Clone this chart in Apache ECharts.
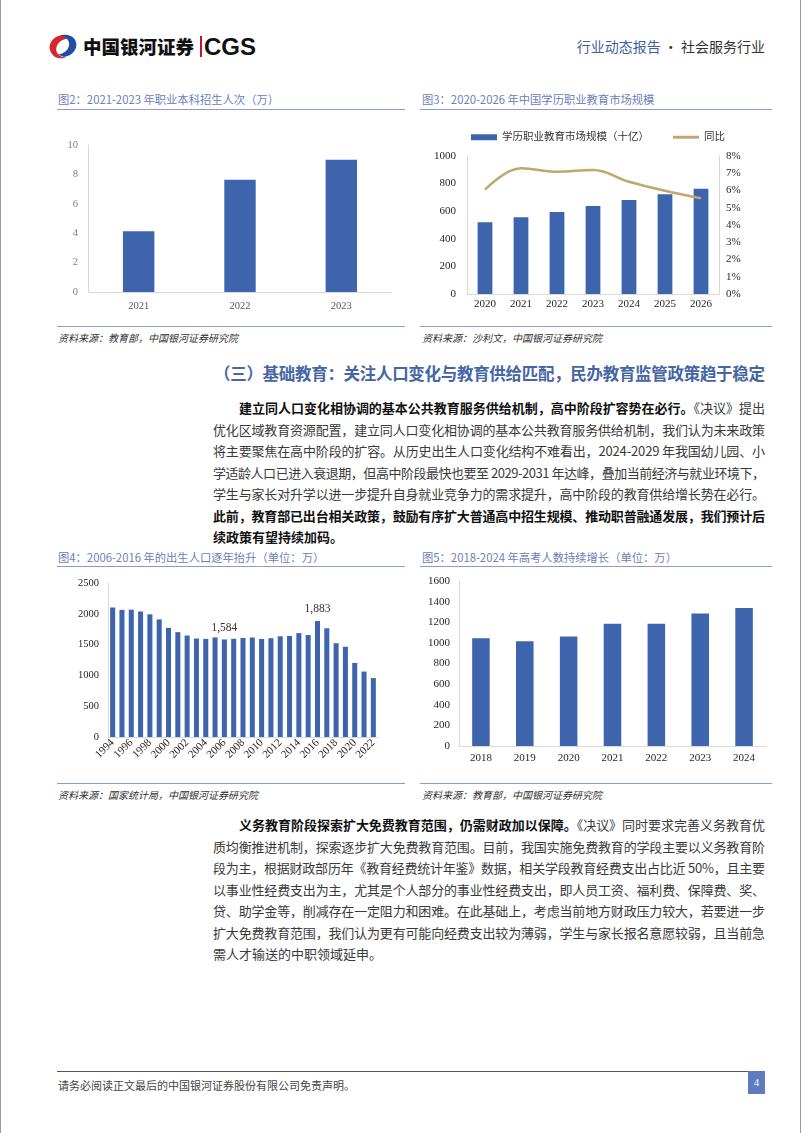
<!DOCTYPE html>
<html>
<head>
<meta charset="utf-8">
<script src="https://cdn.jsdelivr.net/npm/echarts/dist/echarts.min.js"></script>
<style>
  html,body{margin:0;padding:0;background:#fff;}
  #page{position:relative;width:802px;height:1133px;overflow:hidden;background:#fff;font-family:"Noto Sans CJK SC","Noto Sans",sans-serif;}
  .abs{position:absolute;white-space:nowrap;}
  .ttl{font-size:11.3px;color:#6d80b9;line-height:14px;}
  .rule{position:absolute;height:0;border-top:1.5px solid #8e9bc9;}
  .src{font-size:10px;font-style:italic;color:#333;line-height:12px;}
  .ln{position:absolute;white-space:nowrap;font-size:13px;line-height:22px;color:#3a3a3a;}
  .ln b{color:#111;font-weight:700;}
  .chart{position:absolute;}
</style>
</head>
<body>
<div id="page">
  <!-- page edges -->
  <div class="abs" style="left:0;top:0;width:1px;height:1133px;background:#9a9a9a;"></div>
  <div class="abs" style="left:800px;top:0;width:1px;height:1133px;background:#9a9a9a;"></div>

  <!-- header -->
  <svg class="abs" style="left:47px;top:33px;" width="32" height="27" viewBox="0 0 32 27">
    <path d="M15 2 C7 3 1 10 3 17 C5 24 12 27 19 24.5 C12 24 8 19.5 9.5 14 C11 9 15 6.5 21 5.5 Z" fill="#d7262e"/>
    <path d="M17 24 C25 23 31 16 29 9 C27 3 20 0.5 13 2.5 C19 3.5 23 7.5 22 12.5 C21 17.5 17 20.5 11 21.5 Z" fill="#1f4fa3"/>
  </svg>
  <div class="abs" style="left:83px;top:34px;font-size:18.5px;line-height:24px;font-weight:900;color:#111;">中国银河证券</div>
  <div class="abs" style="left:200px;top:36px;width:1.6px;height:21px;background:#c8102e;"></div>
  <div class="abs" style="left:204px;top:33px;font-family:'Liberation Sans',Arial,sans-serif;font-weight:700;font-size:24px;line-height:27px;color:#111;">CGS</div>
  <div class="abs" style="right:37px;top:36px;font-size:14px;line-height:20px;"><span style="color:#3f5fa5;">行业动态报告</span><span style="color:#333;"> · 社会服务行业</span></div>

  <!-- figure titles top -->
  <div class="abs ttl" style="left:58px;top:92px;">图2：2021-2023 年职业本科招生人次（万）</div>
  <div class="rule" style="left:57px;top:109px;width:348px;"></div>
  <div class="abs ttl" style="left:422px;top:92px;">图3：2020-2026 年中国学历职业教育市场规模</div>
  <div class="rule" style="left:420px;top:109px;width:352px;"></div>

  <div id="c1" class="chart" style="left:57px;top:112px;width:350px;height:210px;"></div>
  <div id="c2" class="chart" style="left:420px;top:112px;width:360px;height:210px;"></div>

  <div class="rule" style="left:57px;top:326px;width:348px;"></div>
  <div class="abs src" style="left:58px;top:332px;">资料来源：教育部，中国银河证券研究院</div>
  <div class="rule" style="left:420px;top:326px;width:352px;"></div>
  <div class="abs src" style="left:422px;top:332px;">资料来源：沙利文，中国银河证券研究院</div>

  <!-- section heading -->
  <div class="abs jl" data-w="551" style="left:214px;top:362px;font-size:16.5px;line-height:22px;font-weight:700;color:#4565a5;">（三）基础教育：关注人口变化与教育供给匹配，民办教育监管政策趋于稳定</div>

  <!-- paragraph 1 -->
  <div class="ln jl" data-w="526" style="left:239px;top:397px;"><b>建立同人口变化相协调的基本公共教育服务供给机制，高中阶段扩容势在必行。</b>《决议》提出</div>
  <div class="ln jl" data-w="552" style="left:213px;top:418.5px;">优化区域教育资源配置，建立同人口变化相协调的基本公共教育服务供给机制，我们认为未来政策</div>
  <div class="ln jl" data-w="552" style="left:213px;top:440px;">将主要聚焦在高中阶段的扩容。从历史出生人口变化结构不难看出，2024-2029 年我国幼儿园、小</div>
  <div class="ln jl" data-w="552" style="left:213px;top:461.5px;">学适龄人口已进入衰退期，但高中阶段最快也要至 2029-2031 年达峰，叠加当前经济与就业环境下，</div>
  <div class="ln jl" data-w="552" style="left:213px;top:483px;">学生与家长对升学以进一步提升自身就业竞争力的需求提升，高中阶段的教育供给增长势在必行。</div>
  <div class="ln jl" data-w="552" style="left:213px;top:504.5px;"><b>此前，教育部已出台相关政策，鼓励有序扩大普通高中招生规模、推动职普融通发展，我们预计后</b></div>
  <div class="ln" style="left:213px;top:526px;"><b>续政策有望持续加码。</b></div>

  <!-- figure titles bottom -->
  <div class="abs ttl" style="left:58px;top:550px;">图4：2006-2016 年的出生人口逐年抬升（单位：万）</div>
  <div class="rule" style="left:57px;top:566px;width:348px;"></div>
  <div class="abs ttl" style="left:422px;top:550px;">图5：2018-2024 年高考人数持续增长（单位：万）</div>
  <div class="rule" style="left:420px;top:566px;width:352px;"></div>

  <div id="c3" class="chart" style="left:57px;top:568px;width:350px;height:210px;"></div>
  <div id="c4" class="chart" style="left:420px;top:568px;width:360px;height:210px;"></div>

  <div class="rule" style="left:57px;top:783px;width:348px;"></div>
  <div class="abs src" style="left:58px;top:789px;">资料来源：国家统计局，中国银河证券研究院</div>
  <div class="rule" style="left:420px;top:783px;width:352px;"></div>
  <div class="abs src" style="left:422px;top:789px;">资料来源：教育部，中国银河证券研究院</div>

  <!-- paragraph 2 -->
  <div class="ln jl" data-w="526" style="left:239px;top:814px;"><b>义务教育阶段探索扩大免费教育范围，仍需财政加以保障。</b>《决议》同时要求完善义务教育优</div>
  <div class="ln jl" data-w="552" style="left:213px;top:835.5px;">质均衡推进机制，探索逐步扩大免费教育范围。目前，我国实施免费教育的学段主要以义务教育阶</div>
  <div class="ln jl" data-w="552" style="left:213px;top:857px;">段为主，根据财政部历年《教育经费统计年鉴》数据，相关学段教育经费支出占比近 50%，且主要</div>
  <div class="ln jl" data-w="552" style="left:213px;top:878.5px;">以事业性经费支出为主，尤其是个人部分的事业性经费支出，即人员工资、福利费、保障费、奖、</div>
  <div class="ln jl" data-w="552" style="left:213px;top:900px;">贷、助学金等，削减存在一定阻力和困难。在此基础上，考虑当前地方财政压力较大，若要进一步</div>
  <div class="ln jl" data-w="552" style="left:213px;top:921.5px;">扩大免费教育范围，我们认为更有可能向经费支出较为薄弱，学生与家长报名意愿较弱，且当前急</div>
  <div class="ln" style="left:213px;top:943px;">需人才输送的中职领域延申。</div>

  <!-- footer -->
  <div class="abs" style="left:57px;top:1071px;width:691px;height:1px;background:#555;"></div>
  <div class="abs" style="left:58px;top:1078px;font-size:11px;line-height:14px;color:#444;">请务必阅读正文最后的中国银河证券股份有限公司免责声明。</div>
  <div class="abs" style="left:748px;top:1071px;width:17px;height:23px;background:#5d7cbf;color:#fff;font-family:'Liberation Serif',serif;font-size:11px;line-height:23px;text-align:center;">4</div>
</div>

<script>
// ---------- data ----------
const fig2Years = ['2021', '2022', '2023'];
const fig2Enroll = [4.14, 7.63, 8.99];

const fig3Years = ['2020', '2021', '2022', '2023', '2024', '2025', '2026'];
const fig3Market = [520, 556, 594, 638, 681, 722, 763];
const fig3Yoy = [6.05, 7.29, 7.09, 7.19, 6.51, 5.99, 5.55];
const fig3Names = ['学历职业教育市场规模（十亿）', '同比'];

const fig4Years = ['1994', '1995', '1996', '1997', '1998', '1999', '2000', '2001', '2002', '2003',
  '2004', '2005', '2006', '2007', '2008', '2009', '2010', '2011', '2012', '2013',
  '2014', '2015', '2016', '2017', '2018', '2019', '2020', '2021', '2022'];
const fig4Births = [2104, 2063, 2067, 2038, 1991, 1909, 1771, 1702, 1647, 1599,
  1593, 1617, 1584, 1594, 1608, 1615, 1592, 1604, 1635, 1640,
  1687, 1655, 1883, 1765, 1523, 1465, 1202, 1062, 956];
const fig4Labeled = ['2006', '2016'];

const fig5Years = ['2018', '2019', '2020', '2021', '2022', '2023', '2024'];
const fig5Exam = [1044, 1015, 1063, 1186, 1186, 1286, 1338];

// ---------- justify text lines ----------
document.querySelectorAll('.jl').forEach(el => {
  const target = parseFloat(el.dataset.w);
  el.style.letterSpacing = '0px';
  const w = el.getBoundingClientRect().width;
  const n = el.textContent.length;
  el.style.letterSpacing = ((target - w) / (n - 1)) + 'px';
});

// ---------- charts ----------
const BAR = '#3E64AE';
const LINEC = '#C4A56B';
const SERIF = "'Liberation Serif','Noto Sans CJK SC',serif";
const AXC = '#d9d9d9';
const plain = v => String(v);

const c1 = echarts.init(document.getElementById('c1'));
c1.setOption({
  animation: false,
  grid: {left: 31, right: 15, top: 33, bottom: 30},
  xAxis: {
    type: 'category', data: fig2Years,
    axisLine: {lineStyle: {color: AXC}}, axisTick: {show: false},
    axisLabel: {color: '#595959', fontFamily: SERIF, fontSize: 10.5, margin: 9}
  },
  yAxis: {
    type: 'value', min: 0, max: 10, interval: 2,
    axisLine: {show: true, lineStyle: {color: AXC}}, splitLine: {show: false},
    axisLabel: {color: '#7f7f7f', fontFamily: SERIF, fontSize: 10.5, margin: 10, formatter: plain}
  },
  series: [{type: 'bar', data: fig2Enroll, barWidth: '31%', itemStyle: {color: BAR}}]
});

const c2 = echarts.init(document.getElementById('c2'));
c2.setOption({
  animation: false,
  legend: {
    left: 46, top: 15, itemGap: 24, itemWidth: 26, itemHeight: 6,
    textStyle: {fontFamily: SERIF, fontSize: 10.5, color: '#333'},
    data: [{name: fig3Names[0], icon: 'rect'},
           {name: fig3Names[1], icon: 'path://M0,0L26,0L26,3L0,3Z', itemStyle: {color: LINEC}}]
  },
  grid: {left: 47, right: 61, top: 44, bottom: 28},
  xAxis: {
    type: 'category', data: fig3Years,
    axisLine: {lineStyle: {color: AXC}}, axisTick: {show: false},
    axisLabel: {color: '#262626', fontFamily: SERIF, fontSize: 11, margin: 5}
  },
  yAxis: [{
    type: 'value', min: 0, max: 1000, interval: 200,
    axisLine: {show: true, lineStyle: {color: AXC}}, splitLine: {show: false},
    axisLabel: {color: '#262626', fontFamily: SERIF, fontSize: 11, margin: 11, formatter: plain}
  }, {
    type: 'value', min: 0, max: 8, interval: 1, position: 'right',
    axisLine: {show: true, lineStyle: {color: AXC}}, splitLine: {show: false},
    axisLabel: {color: '#262626', fontFamily: SERIF, fontSize: 11, margin: 7, formatter: v => v + '%'}
  }],
  series: [
    {name: fig3Names[0], type: 'bar', data: fig3Market, barWidth: '41%', itemStyle: {color: BAR}},
    {name: fig3Names[1], type: 'line', yAxisIndex: 1, data: fig3Yoy, smooth: 0.4, symbol: 'none',
     lineStyle: {color: LINEC, width: 2.5}, itemStyle: {color: LINEC}}
  ]
});

const c3 = echarts.init(document.getElementById('c3'));
c3.setOption({
  animation: false,
  grid: {left: 51, right: 29, top: 15, bottom: 41},
  xAxis: {
    type: 'category', data: fig4Years,
    axisLine: {lineStyle: {color: AXC}}, axisTick: {show: false},
    axisLabel: {color: '#262626', fontFamily: SERIF, fontSize: 11, rotate: 45, interval: 1, margin: 4}
  },
  yAxis: {
    type: 'value', min: 0, max: 2500, interval: 500,
    axisLine: {show: true, lineStyle: {color: AXC}}, splitLine: {show: false},
    axisLabel: {color: '#262626', fontFamily: SERIF, fontSize: 10.5, margin: 9, formatter: plain}
  },
  series: [{
    type: 'bar', barWidth: '54%', itemStyle: {color: BAR},
    label: {show: false, position: 'top', distance: 6, color: '#333', fontFamily: SERIF, fontSize: 11.5,
            formatter: p => p.value.toLocaleString('en-US')},
    data: fig4Births.map((v, i) => fig4Labeled.includes(fig4Years[i]) ? {value: v, label: {show: true}} : v)
  }]
});

const c4 = echarts.init(document.getElementById('c4'));
c4.setOption({
  animation: false,
  grid: {left: 39, right: 14, top: 13, bottom: 32},
  xAxis: {
    type: 'category', data: fig5Years,
    axisLine: {lineStyle: {color: AXC}}, axisTick: {show: false},
    axisLabel: {color: '#262626', fontFamily: SERIF, fontSize: 11, margin: 7}
  },
  yAxis: {
    type: 'value', min: 0, max: 1600, interval: 200,
    axisLine: {show: true, lineStyle: {color: AXC}}, splitLine: {show: false},
    axisLabel: {color: '#262626', fontFamily: SERIF, fontSize: 11, margin: 9, formatter: plain}
  },
  series: [{type: 'bar', data: fig5Exam, barWidth: '40%', itemStyle: {color: BAR}}]
});
</script>
</body>
</html>
